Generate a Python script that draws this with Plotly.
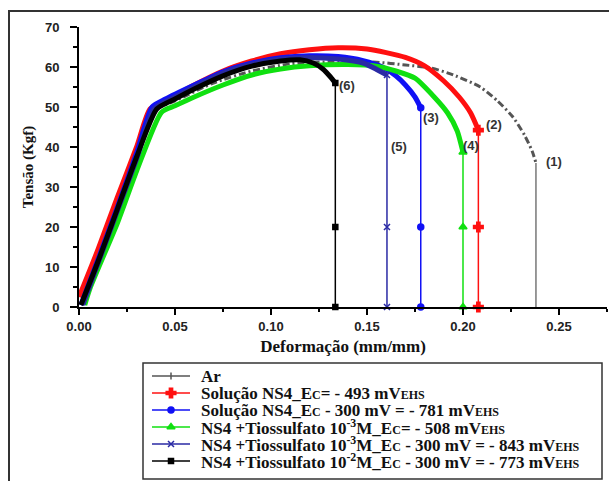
import plotly.graph_objects as go

# ---- data ----
ar_x = [0.001, 0.01, 0.02, 0.03, 0.039, 0.05, 0.07, 0.09, 0.11, 0.13, 0.155, 0.17, 0.183, 0.195, 0.209, 0.218, 0.226, 0.232, 0.236, 0.238]
ar_y = [0.5, 11, 24, 37, 49, 51.5, 56, 59, 60.8, 61.3, 61.2, 60.5, 59.8, 58, 55, 51.5, 47.5, 43, 39, 36]

red_x = [0.0, 0.01, 0.02, 0.03, 0.037, 0.045, 0.06, 0.075, 0.09, 0.105, 0.12, 0.135, 0.15, 0.16, 0.17, 0.18, 0.19, 0.198, 0.204, 0.208]
red_y = [2.5, 14.5, 27.5, 40, 49.5, 51.5, 55.5, 59, 61.5, 63.3, 64.3, 64.8, 64.5, 63.6, 62.4, 60.3, 56.5, 52.5, 48.5, 44.2]

blue_x = [0.001, 0.01, 0.02, 0.03, 0.038, 0.045, 0.06, 0.075, 0.09, 0.105, 0.12, 0.135, 0.148, 0.158, 0.165, 0.17, 0.175, 0.178]
blue_y = [0.5, 12, 25, 38.5, 50, 52, 55.5, 58.8, 61, 62.3, 62.8, 62.6, 61.6, 60, 57.8, 55.5, 52.5, 49.8]

green_x = [0.003, 0.006, 0.02, 0.03, 0.043, 0.05, 0.06, 0.075, 0.09, 0.105, 0.12, 0.14, 0.155, 0.165, 0.175, 0.185, 0.192, 0.197, 0.2]
green_y = [0.5, 5, 21, 34, 48.7, 50.3, 52.5, 55.5, 58, 59.5, 60.3, 60.6, 60.2, 59, 57.2, 52.5, 48.5, 44, 38.7]

navy_x = [0.002, 0.01, 0.02, 0.03, 0.039, 0.05, 0.06, 0.075, 0.09, 0.105, 0.12, 0.135, 0.148, 0.1604]
navy_y = [0.5, 11, 24, 37, 49.5, 52.5, 55, 58.5, 60.7, 62, 62.4, 62, 61, 58]

black_x = [0.001, 0.01, 0.02, 0.03, 0.0405, 0.05, 0.06, 0.075, 0.09, 0.105, 0.115, 0.122, 0.127, 0.131, 0.1335]
black_y = [0.5, 11.5, 24.5, 37.5, 49.5, 52, 54.5, 57.8, 60.2, 61.5, 61.8, 61, 59.5, 57.5, 56]

drop_levels = [20, 0]

SM = "<span style='font-size:12px'>{}</span>"
legend_names = [
    "Ar",
    "Solução NS4_E" + SM.format("C") + "= - 493 mV" + SM.format("EHS"),
    "Solução NS4_E" + SM.format("C") + " - 300 mV = - 781 mV" + SM.format("EHS"),
    "NS4 +Tiossulfato 10<sup>-3</sup>M_E" + SM.format("C") + "= - 508 mV" + SM.format("EHS"),
    "NS4 +Tiossulfato 10<sup>-3</sup>M_E" + SM.format("C") + " - 300 mV = - 843 mV" + SM.format("EHS"),
    "NS4 +Tiossulfato 10<sup>-2</sup>M_E" + SM.format("C") + " - 300 mV = - 773 mV" + SM.format("EHS"),
]
curve_labels = ["(1)", "(2)", "(3)", "(4)", "(5)", "(6)"]
label_x = [0.2474, 0.216, 0.1833, 0.204, 0.1667, 0.1396]
label_y = [36.25, 45.5, 47.25, 40.25, 40, 55.25]

x_ticks = [0.0, 0.05, 0.10, 0.15, 0.20, 0.25]
x_ticktext = ["0.00", "0.05", "0.10", "0.15", "0.20", "0.25"]
y_ticks = [0, 10, 20, 30, 40, 50, 60, 70]

series = [
    (ar_x, ar_y, "#555555", "line-ns-open", 4, 0, "7px,3px,2px,3px", False),
    (red_x, red_y, "#ff1010", "cross", 8, 1, "solid", True),
    (blue_x, blue_y, "#1010f5", "circle", 6, 2, "solid", True),
    (green_x, green_y, "#10e010", "triangle-up", 7, 3, "solid", True),
    (navy_x, navy_y, "#2a2aa5", "x-thin-open", 6, 4, "solid", True),
    (black_x, black_y, "#000000", "square", 5, 5, "solid", True),
]

W, H = 609, 481
PX0, PX1, PY0, PY1 = 79, 607, 27, 307

fig = go.Figure()
for xs, ys, col, sym, ms, li, dash, mk in series:
    wide = 3 if li == 0 else 5
    fig.add_trace(go.Scatter(
        x=xs, y=ys, mode="lines", line=dict(color=col, width=wide, dash=dash, shape="spline", smoothing=0.6),
        showlegend=False, hoverinfo="skip"))
for xs, ys, col, sym, ms, li, dash, mk in series:
    dx = [xs[-1]] + [xs[-1] for _ in drop_levels]
    dy = [ys[-1]] + list(drop_levels)
    fig.add_trace(go.Scatter(
        x=dx, y=dy, mode="lines+markers", cliponaxis=False,
        line=dict(color=col, width=1.5 if li else 1.2, dash="solid"),
        marker=dict(symbol=sym, size=ms if mk else 0.1, color=col, line=dict(color=col, width=1.5)),
        showlegend=False))

for t, lx, ly in zip(curve_labels, label_x, label_y):
    fig.add_annotation(x=lx, y=ly, text=t, showarrow=False, xanchor="center", yanchor="middle",
                       font=dict(family="Liberation Sans", size=13, color="#333333", weight="bold"))

# ---- hand-built legend on a pixel overlay (x2/y2) ----
LEG_X0, LEG_X1, LEG_Y0, LEG_Y1 = 143, 602, 363, 479
row_y = [376, 393, 410, 427, 444, 461]
SAMPLE_X0, SAMPLE_X1, TEXT_X = 152, 190, 199
for (xs, ys, col, sym, ms, li, dash, mk), ry in zip(series, row_y):
    fig.add_trace(go.Scatter(
        x=[SAMPLE_X0, (SAMPLE_X0 + SAMPLE_X1) / 2, SAMPLE_X1], y=[ry, ry, ry],
        xaxis="x2", yaxis="y2", mode="lines", showlegend=False, hoverinfo="skip",
        line=dict(color=col, width=1.5)))
    fig.add_trace(go.Scatter(
        x=[(SAMPLE_X0 + SAMPLE_X1) / 2], y=[ry], xaxis="x2", yaxis="y2", mode="markers",
        showlegend=False, hoverinfo="skip",
        marker=dict(symbol=sym, size=ms if mk else 5, color=col, line=dict(color=col, width=1.5))))
    fig.add_annotation(xref="x2", yref="y2", x=TEXT_X, y=ry, text=legend_names[li], showarrow=False,
                       xanchor="left", yanchor="middle",
                       font=dict(family="Liberation Serif", size=17, color="#111111", weight="bold"))

fig.add_shape(type="rect", xref="x2", yref="y2", x0=LEG_X0, x1=LEG_X1, y0=LEG_Y0, y1=LEG_Y1,
              line=dict(color="#333333", width=1.5), layer="below")
fig.add_shape(type="rect", xref="x2", yref="y2", x0=9, x1=W + 10, y0=11, y1=H + 10,
              line=dict(color="#333333", width=2), layer="below")

fig.update_layout(
    width=W, height=H,
    margin=dict(l=0, r=0, t=0, b=0, autoexpand=False),
    paper_bgcolor="white", plot_bgcolor="rgba(0,0,0,0)",
    showlegend=False,
    xaxis2=dict(domain=[0, 1], anchor="y2", range=[0, W], visible=False, fixedrange=True),
    yaxis2=dict(domain=[0, 1], anchor="x2", range=[H, 0], visible=False, fixedrange=True),
    xaxis=dict(domain=[PX0 / W, PX1 / W], anchor="y", range=[0, 0.275], tickvals=x_ticks, ticktext=x_ticktext,
               showline=True, linecolor="black", linewidth=2, ticks="outside", ticklen=6, tickwidth=2,
               tickcolor="black", showgrid=False, zeroline=False,
               minor=dict(dtick=0.025, tick0=0, ticks="outside", ticklen=3, tickwidth=2, tickcolor="black"),
               tickfont=dict(family="Liberation Sans", size=13, color="#222222", weight="bold"),
               title=dict(text="Deformação (mm/mm)", standoff=8,
                          font=dict(family="Liberation Serif", size=17, color="#111111", weight="bold"))),
    yaxis=dict(domain=[(H - PY1) / H, (H - PY0) / H], anchor="x", range=[0, 70], tickvals=y_ticks,
               showline=True, linecolor="black", linewidth=2, ticks="outside", ticklen=7, tickwidth=2,
               tickcolor="black", showgrid=False, zeroline=False,
               minor=dict(dtick=5, tick0=0, ticks="outside", ticklen=4, tickwidth=2, tickcolor="black"),
               ticklabelstandoff=8,
               tickfont=dict(family="Liberation Sans", size=13, color="#222222", weight="bold"),
               title=dict(text="Tensão (Kgf)", standoff=8,
                          font=dict(family="Liberation Serif", size=15, color="#111111", weight="bold"))),
)

fig.write_html("out.html")
